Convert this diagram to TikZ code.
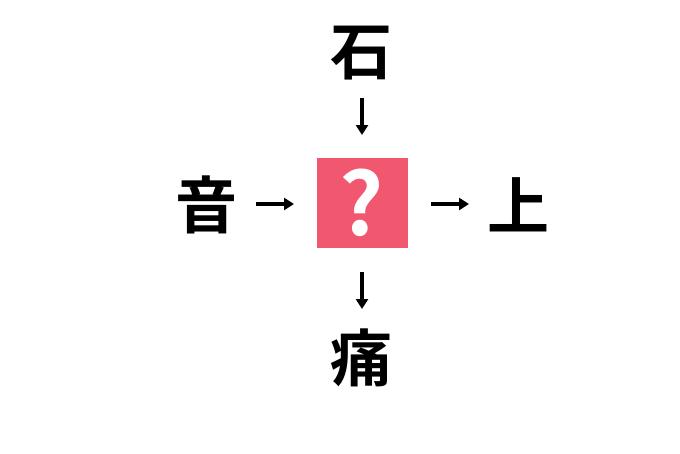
\documentclass[tikz,border=0pt]{standalone}
\usepackage{fontspec}
\newfontfamily\cjk{Noto Sans CJK JP}[BoldFont={* Bold}]
\usetikzlibrary{arrows.meta}
\definecolor{qpink}{RGB}{241,88,112}
\begin{document}
\begin{tikzpicture}[x=1pt,y=-1pt,
  kanji/.style={font=\cjk\bfseries\fontsize{62}{62}\selectfont, inner sep=0pt, text=black},
  qbox/.style={fill=qpink, minimum width=91pt, minimum height=90pt, inner sep=0pt},
  qmark/.style={text=white, font=\cjk\bfseries\fontsize{86}{86}\selectfont, inner sep=0pt},
  conn/.style={line width=3.6pt, -{Triangle[length=10pt,width=12pt]}}]
\useasboundingbox[fill=white] (0,0) rectangle (680,453);
\node[qbox] (q) at (362,203) {};
\node[qmark] (qm) at (362,203) {?};
\node[kanji] (top) at (361,53) {石};
\node[kanji] (left) at (206,205) {音};
\node[kanji] (right) at (518,205) {上};
\node[kanji] (bottom) at (361,358) {痛};
\coordinate (t1) at (362,98);
\coordinate (t2) at (362,135);
\coordinate (b1) at (362,272);
\coordinate (b2) at (362,309);
\coordinate (l1) at (256,204);
\coordinate (l2) at (294,204);
\coordinate (r1) at (431,204);
\coordinate (r2) at (469,204);
\draw[conn] (t1) -- (t2);
\draw[conn] (b1) -- (b2);
\draw[conn] (l1) -- (l2);
\draw[conn] (r1) -- (r2);
\end{tikzpicture}
\end{document}
